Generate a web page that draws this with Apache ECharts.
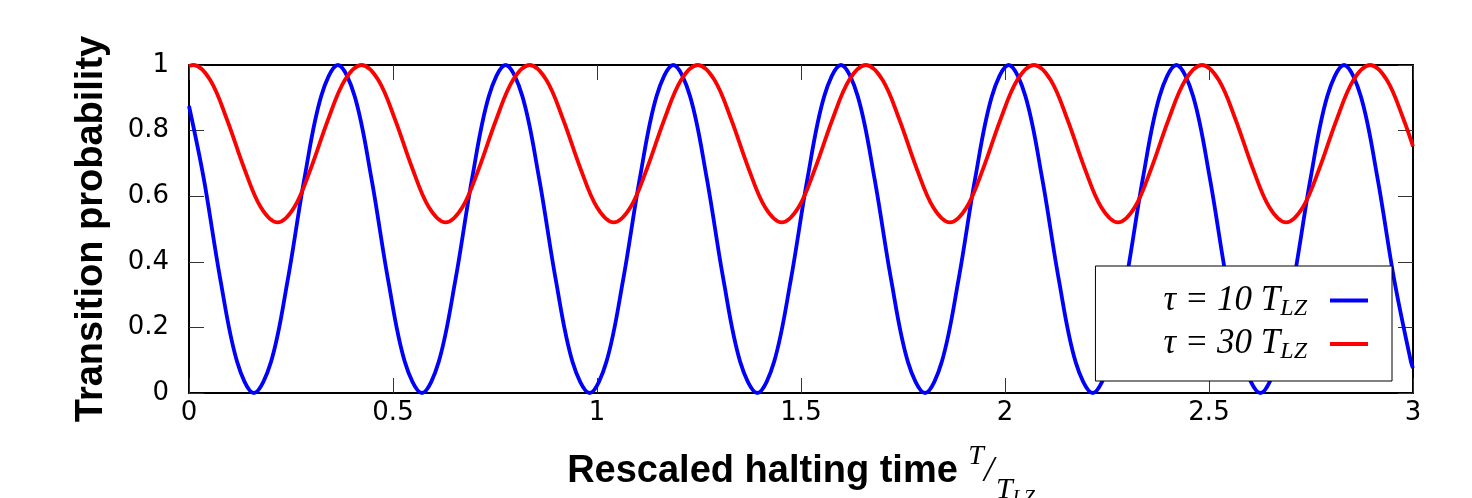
<!DOCTYPE html>
<html>
<head>
<meta charset="utf-8">
<script src="https://cdn.jsdelivr.net/npm/echarts@6/dist/echarts.min.js"></script>
<style>
html,body{margin:0;padding:0;background:#fff;}
#chart{width:1472px;height:498px;}
</style>
</head>
<body>
<div id="chart"></div>
<script>
// ---- data ----
const xTicks = [0, 0.5, 1, 1.5, 2, 2.5, 3];
const yTicks = [0, 0.2, 0.4, 0.6, 0.8, 1];
const seriesNames = ['τ = 10 T_LZ', 'τ = 30 T_LZ'];
const seriesTau = ['10', '30'];

const blueT = [0, 0.036, 0.077, 0.118, 0.159, 0.201, 0.242, 0.283, 0.324, 0.365, 0.406, 0.447, 0.488, 0.529, 0.571, 0.612, 0.653, 0.694, 0.735, 0.776, 0.817, 0.858, 0.899, 0.940, 0.982, 1.023, 1.064, 1.105, 1.146, 1.187, 1.228, 1.269, 1.310, 1.351, 1.393, 1.434, 1.475, 1.516, 1.557, 1.598, 1.639, 1.680, 1.721, 1.762, 1.804, 1.845, 1.886, 1.927, 1.968, 2.009, 2.050, 2.091, 2.132, 2.173, 2.215, 2.256, 2.297, 2.338, 2.379, 2.420, 2.461, 2.502, 2.543, 2.584, 2.626, 2.667, 2.708, 2.749, 2.790, 2.831, 2.872, 2.913, 2.954, 2.995, 3.0];
const blueP = [0.875,
  0.655, 0.345, 0.095, 0, 0.095, 0.345, 0.655, 0.905, 1, 0.905,
  0.655, 0.345, 0.095, 0, 0.095, 0.345, 0.655, 0.905, 1, 0.905,
  0.655, 0.345, 0.095, 0, 0.095, 0.345, 0.655, 0.905, 1, 0.905,
  0.655, 0.345, 0.095, 0, 0.095, 0.345, 0.655, 0.905, 1, 0.905,
  0.655, 0.345, 0.095, 0, 0.095, 0.345, 0.655, 0.905, 1, 0.905,
  0.655, 0.345, 0.095, 0, 0.095, 0.345, 0.655, 0.905, 1, 0.905,
  0.655, 0.345, 0.095, 0, 0.095, 0.345, 0.655, 0.905, 1, 0.905,
  0.655, 0.345, 0.095, 0.076];

const redT = [0, 0.011, 0.052, 0.093, 0.135, 0.176, 0.217, 0.258, 0.299, 0.341, 0.382, 0.423, 0.464, 0.505, 0.547, 0.588, 0.629, 0.670, 0.711, 0.753, 0.794, 0.835, 0.876, 0.917, 0.959, 1.000, 1.041, 1.082, 1.123, 1.165, 1.206, 1.247, 1.288, 1.329, 1.371, 1.412, 1.453, 1.494, 1.535, 1.577, 1.618, 1.659, 1.700, 1.741, 1.783, 1.824, 1.865, 1.906, 1.947, 1.989, 2.030, 2.071, 2.112, 2.153, 2.195, 2.236, 2.277, 2.318, 2.359, 2.401, 2.442, 2.483, 2.524, 2.565, 2.607, 2.648, 2.689, 2.730, 2.771, 2.813, 2.854, 2.895, 2.936, 2.977, 3.0];
const redP = [0.997,
  1, 0.954, 0.834, 0.686, 0.566, 0.52, 0.566, 0.686, 0.834, 0.954,
  1, 0.954, 0.834, 0.686, 0.566, 0.52, 0.566, 0.686, 0.834, 0.954,
  1, 0.954, 0.834, 0.686, 0.566, 0.52, 0.566, 0.686, 0.834, 0.954,
  1, 0.954, 0.834, 0.686, 0.566, 0.52, 0.566, 0.686, 0.834, 0.954,
  1, 0.954, 0.834, 0.686, 0.566, 0.52, 0.566, 0.686, 0.834, 0.954,
  1, 0.954, 0.834, 0.686, 0.566, 0.52, 0.566, 0.686, 0.834, 0.954,
  1, 0.954, 0.834, 0.686, 0.566, 0.52, 0.566, 0.686, 0.834, 0.954,
  1, 0.954, 0.834, 0.752];

// ---- build ----
const zip = (xs, ys) => xs.map((x, i) => [x, ys[i]]);
const chart = echarts.init(document.getElementById('chart'), null, {renderer: 'canvas'});

const sans = 'Liberation Sans, Arial, sans-serif';
const serif = 'Liberation Serif, Times New Roman, serif';
const frame = {color: '#000', width: 2};
const tick = {inside: true, length: 15, lineStyle: {color: '#333', width: 1}};
const tickFont = {fontFamily: 'DejaVu Sans, sans-serif', fontSize: 26, color: '#000'};

const xCommon = {type: 'value', min: xTicks[0], max: xTicks[xTicks.length - 1], interval: xTicks[1] - xTicks[0],
  splitLine: {show: false}, axisLine: {show: true, onZero: false, lineStyle: frame}, axisTick: tick};
const yCommon = {type: 'value', min: yTicks[0], max: yTicks[yTicks.length - 1], interval: yTicks[1] - yTicks[0],
  splitLine: {show: false}, axisLine: {show: true, onZero: false, lineStyle: frame}, axisTick: tick};

const option = {
  animation: false,
  backgroundColor: '#fff',
  grid: {left: 189, right: 59, top: 65, bottom: 105, containLabel: false, outerBoundsMode: 'none'},
  xAxis: [
    Object.assign({}, xCommon, {
      position: 'bottom',
      axisLabel: Object.assign({margin: 7}, tickFont),
      name: '{b|Rescaled halting time }{n|T}{sl|/}{d|T}{z|LZ}',
      nameLocation: 'middle',
      nameGap: 39,
      nameTextStyle: {
        rich: {
          b: {fontFamily: sans, fontWeight: 'bold', fontSize: 38, lineHeight: 80, color: '#000'},
          n: {fontFamily: serif, fontStyle: 'italic', fontSize: 28, verticalAlign: 'top', padding: [11, 0, 0, 0], color: '#000'},
          sl: {fontFamily: serif, fontStyle: 'italic', fontSize: 36, color: '#000'},
          d: {fontFamily: serif, fontStyle: 'italic', fontSize: 30, verticalAlign: 'bottom', padding: [0, 0, 7, 2], color: '#000'},
          z: {fontFamily: serif, fontStyle: 'italic', fontSize: 20, verticalAlign: 'bottom', padding: [0, 0, 3, 0], color: '#000'}
        }
      }
    }),
    Object.assign({}, xCommon, {position: 'top', axisLabel: {show: false}})
  ],
  yAxis: [
    Object.assign({}, yCommon, {
      position: 'left',
      axisLabel: Object.assign({margin: 20}, tickFont),
      name: 'Transition probability',
      nameLocation: 'middle',
      nameGap: 78,
      nameTextStyle: {fontFamily: sans, fontWeight: 'bold', fontSize: 38, lineHeight: 38, color: '#000'}
    }),
    Object.assign({}, yCommon, {position: 'right', axisLabel: {show: false}})
  ],
  legend: {
    orient: 'vertical',
    right: 80,
    top: 266,
    align: 'right',
    icon: 'rect',
    itemWidth: 38,
    itemHeight: 4,
    itemGap: 6,
    padding: [17, 24, 17, 68],
    borderColor: '#000',
    borderWidth: 1,
    borderRadius: 0,
    backgroundColor: '#fff',
    data: seriesNames,
    formatter: function (name) {
      const i = seriesNames.indexOf(name);
      return '{m|τ = ' + seriesTau[i] + ' T}{z|LZ}';
    },
    textStyle: {
      rich: {
        m: {fontFamily: serif, fontStyle: 'italic', fontSize: 35, lineHeight: 40, color: '#000'},
        z: {fontFamily: serif, fontStyle: 'italic', fontSize: 24, lineHeight: 16, verticalAlign: 'bottom', padding: [0, 18, 0, 0], color: '#000'}
      }
    }
  },
  series: [
    {name: seriesNames[0], type: 'line', data: zip(blueT, blueP), smooth: 0.35, showSymbol: false, symbol: 'none', clip: false,
      color: '#0000ff', lineStyle: {color: '#0000ff', width: 3.8}},
    {name: seriesNames[1], type: 'line', data: zip(redT, redP), smooth: 0.35, showSymbol: false, symbol: 'none', clip: false,
      color: '#ff0000', lineStyle: {color: '#ff0000', width: 3.8}}
  ]
};
chart.setOption(option);
</script>
</body>
</html>
